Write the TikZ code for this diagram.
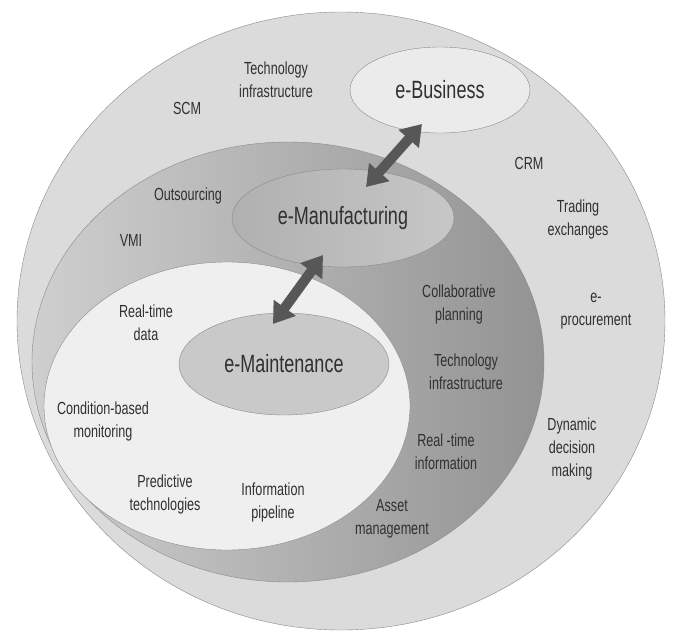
\documentclass[tikz,border=0pt]{standalone}
\usepackage{fontspec}
\setmainfont{Liberation Sans}[FakeStretch=0.72]
\usepackage{tikz}
\usetikzlibrary{arrows.meta,calc,shapes.geometric}

\definecolor{outergray}{HTML}{DBDBDB}
\definecolor{midlight}{HTML}{CFCFCF}
\definecolor{middark}{HTML}{939393}
\definecolor{innergray}{HTML}{EFEFEF}
\definecolor{edgegray}{HTML}{8A8A8A}
\definecolor{labelgray}{HTML}{303030}
\definecolor{arrowgray}{HTML}{575757}

\begin{document}
\begin{tikzpicture}[x=1pt, y=-1pt, >={Triangle[width=26pt,length=20pt]}]
\tikzstyle{every node}=[text=labelgray, align=center, font=\fontsize{17.5}{23}\selectfont]
\tikzstyle{hub}=[ellipse, draw=edgegray, thin, font=\fontsize{25}{30}\selectfont]
\tikzstyle{dbl}=[<->, line width=10pt, draw=arrowgray]
\useasboundingbox (0,0) rectangle (673,633);
\fill[white] (0,0) rectangle (673,633);

% three nested regions
\filldraw[fill=outergray, draw=edgegray] (341,321) ellipse [x radius=324, y radius=309];
\shade[left color=midlight, right color=middark] (288,362) ellipse [x radius=256, y radius=220];
\draw[edgegray] (288,362) ellipse [x radius=256, y radius=220];
\filldraw[fill=innergray, draw=edgegray] (227,406) ellipse [x radius=183, y radius=144];

% the three e-levels
\node[hub, fill=gray!16, minimum width=180pt, minimum height=86pt] (bus) at (440,90) {e-Business};
\node[hub, left color=gray!62, right color=gray!44, minimum width=222pt, minimum height=98pt] (mfg) at (343,218) {e-Manufacturing};
\node[hub, fill=gray!42, minimum width=210pt, minimum height=102pt] (mnt) at (284,364) {e-Maintenance};

\draw[dbl] ($(mfg.center)+(23,-31)$) -- ($(bus.center)+(-18,34)$);
\draw[dbl] ($(mnt.center)+(-11,-40)$) -- ($(mfg.center)+(-20,37)$);

% e-Business ring
\node (tinf)   at (276,80)  {Technology\\infrastructure};
\node (scm)    at (187,108) {SCM};
\node (crm)    at (529,163) {CRM};
\node (trade)  at (578,219) {Trading\\exchanges};
\node (eproc)  at (596,311) {e-\\procurement};
\node (dyn)    at (572,449) {Dynamic\\decision\\making};

% e-Manufacturing ring
\node (outs)   at (188,196) {Outsourcing};
\node (vmi)    at (131,240) {VMI};
\node (collab) at (459,304) {Collaborative\\planning};
\node (tinf2)  at (466,372) {Technology\\infrastructure};
\node (rtinfo) at (446,452) {Real -time\\information};
\node (asset)  at (392,519) {Asset\\management};

% e-Maintenance core
\node (rtdata) at (146,323) {Real-time\\data};
\node (cbm)    at (103,421) {Condition-based\\monitoring};
\node (pred)   at (165,494) {Predictive\\technologies};
\node (pipe)   at (273,502) {Information\\pipeline};
\end{tikzpicture}
\end{document}
